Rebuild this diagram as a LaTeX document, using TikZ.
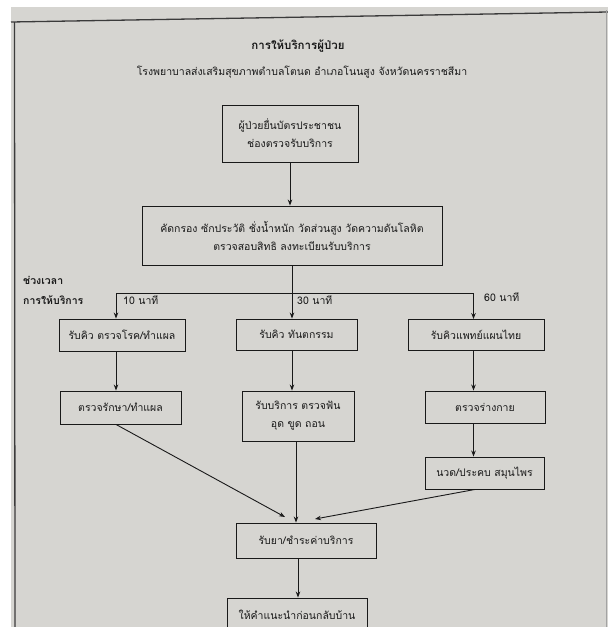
\documentclass[tikz,border=0pt]{standalone}
\usepackage{fontspec}
\setmainfont[Script=Thai]{Loma}
\usetikzlibrary{arrows.meta}
\definecolor{paper}{RGB}{214,213,209}
\definecolor{ink}{RGB}{25,25,25}
\begin{document}
\begin{tikzpicture}[x=1pt,y=-1pt,
  box/.style={draw=ink, line width=0.9pt, inner sep=0pt, align=center, text=ink,
    font=\fontsize{10.5}{18}\selectfont},
  lbl/.style={text=ink, inner sep=0pt, font=\fontsize{10.5}{12}\selectfont},
  conn/.style={draw=ink, line width=0.9pt},
  arr/.style={conn, -{Stealth[length=6pt,width=4.5pt]}}]
\useasboundingbox (0,0) rectangle (608,627);
\clip (0,0) rectangle (608,627);
% paper
\fill[white] (0,0) rectangle (608,627);
\fill[paper] (11,7) rectangle (608,627);
\draw[ink!85, line width=1.3pt] (11,22) -- (608,12);
\draw[ink!85, line width=1.3pt] (14.5,22) -- (15,627);
\draw[ink!40, line width=0.8pt] (606,10) -- (606,627);
% titles
\node[text=ink, inner sep=0pt, font=\bfseries\fontsize{11.5}{12}\selectfont] (title) at (298,46) {การให้บริการผู้ป่วย};
\node[lbl] (sub) at (302,72) {โรงพยาบาลส่งเสริมสุขภาพตำบลโตนด อำเภอโนนสูง จังหวัดนครราชสีมา};
% main boxes
\node[box, minimum width=136pt, minimum height=57pt] (b1) at (290,133.5)
  {ผู้ป่วยยื่นบัตรประชาชน\\ช่องตรวจรับบริการ};
\node[box, minimum width=300pt, minimum height=59pt] (b2) at (292,235.5)
  {คัดกรอง ซักประวัติ ชั่งน้ำหนัก วัดส่วนสูง วัดความดันโลหิต\\ตรวจสอบสิทธิ ลงทะเบียนรับบริการ};
% time labels
\node[lbl, anchor=west, font=\bfseries\fontsize{10.5}{12}\selectfont] (t1) at (23,280) {ช่วงเวลา};
\node[lbl, anchor=west, font=\bfseries\fontsize{10.5}{12}\selectfont] (t2) at (23,300) {การให้บริการ};
\node[lbl, anchor=west] (m10) at (123,300) {10 นาที};
\node[lbl, anchor=west] (m30) at (297,300) {30 นาที};
\node[lbl, anchor=west] (m60) at (484,297) {60 นาที};
% row 1
\node[box, minimum width=126pt, minimum height=32pt] (r1a) at (122,335) {รับคิว ตรวจโรค/ทำแผล};
\node[box, minimum width=121pt, minimum height=31pt] (r1b) at (296.5,334.5) {รับคิว ทันตกรรม};
\node[box, minimum width=136pt, minimum height=31pt] (r1c) at (476,335) {รับคิวแพทย์แผนไทย};
% row 2
\node[box, minimum width=121pt, minimum height=33pt] (r2a) at (120.5,407.5) {ตรวจรักษา/ทำแผล};
\node[box, minimum width=112pt, minimum height=50pt] (r2b) at (298,416) {รับบริการ ตรวจฟัน\\อุด ขูด ถอน};
\node[box, minimum width=120pt, minimum height=32pt] (r2c) at (485,407) {ตรวจร่างกาย};
% row 3
\node[box, minimum width=119pt, minimum height=32pt] (r3c) at (484.5,473) {นวด/ประคบ สมุนไพร};
% bottom
\node[box, minimum width=140pt, minimum height=35pt] (pay) at (306,540.5) {รับยา/ชำระค่าบริการ};
\node[box, minimum width=140pt, minimum height=34pt] (last) at (297,615) {ให้คำแนะนำก่อนกลับบ้าน};
% coordinates
\coordinate (colA) at (116,0);
\coordinate (colB) at (292,0);
\coordinate (colC) at (473.5,0);
\coordinate (hL) at (116,293);
\coordinate (hR) at (473.5,293);
\coordinate (tipL) at (285,517);
\coordinate (tipR) at (315,519);
% connectors
\draw[arr] (b1.south -| b1) -- (b1 |- b2.north);
\draw[conn] (hL) -- (hR);
\draw[arr] (hL) -- (hL |- r1a.north);
\draw[arr] (b2.south -| colB) -- (colB |- r1b.north);
\draw[arr] (hR) -- (hR |- r1c.north);
\draw[arr] (r1a.south -| colA) -- (colA |- r2a.north);
\draw[arr] (r1b.south -| colB) -- (colB |- r2b.north);
\draw[arr] (r1c.south -| colC) -- (colC |- r2c.north);
\draw[arr] (r2c.south -| colC) -- (colC |- r3c.north);
\draw[arr] (r2a.south -| colA) -- (tipL);
\draw[arr] (r2b.south -| 296,0) -- (296,0 |- pay.north);
\draw[arr] (r3c.south -| 475,0) -- (tipR);
\draw[arr] (pay.south -| 298,0) -- (298,0 |- last.north);
\end{tikzpicture}
\end{document}
